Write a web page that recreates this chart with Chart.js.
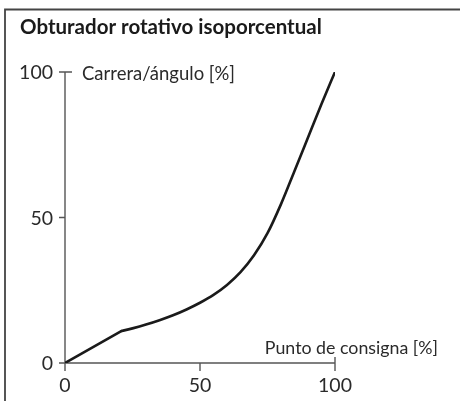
<!DOCTYPE html>
<html>
<head>
<meta charset="utf-8">
<script src="https://cdn.jsdelivr.net/npm/chart.js@4/dist/chart.umd.min.js"></script>
<style>
html,body{margin:0;padding:0;background:#fff;}
#wrap{position:relative;width:460px;height:401px;overflow:hidden;}
canvas{display:block;}
</style>
</head>
<body>
<div id="wrap"><canvas id="c" width="460" height="401"></canvas></div>
<script>
const chartTitle = "Obturador rotativo isoporcentual";
const xAxisTitle = "Punto de consigna [%]";
const yAxisTitle = "Carrera/ángulo [%]";
const xTicks = [0, 50, 100];
const yTicks = [0, 50, 100];
// linear opening segment
const setpointLinear = [0, 21];
const strokeLinear   = [0, 11];
// equal-percentage segment
const setpointCurve = [21, 25, 30, 35, 40, 45, 50, 55, 60, 65, 70, 75, 80, 85, 90, 95, 100];
const strokeCurve   = [11, 11.9, 13.2, 14.7, 16.4, 18.4, 20.7, 23.4, 26.8, 31.2, 37.0, 44.6, 54.6, 66.0, 77.5, 89, 100];

const toPts = (xs, ys) => xs.map((x, i) => ({x: x, y: ys[i]}));
const FONT = "Lato, 'Open Sans', sans-serif";
const TEXT = "#2a2a2a";
const AXIS = "#555";

const decor = {
  id: 'decor',
  beforeDatasetsDraw(chart) {
    const ctx = chart.ctx, xs = chart.scales.x, ys = chart.scales.y;
    ctx.save();
    ctx.strokeStyle = "#444";
    ctx.lineWidth = 1.8;
    ctx.beginPath();
    ctx.moveTo(5, 410);
    ctx.lineTo(5, 9.5);
    ctx.lineTo(470, 9.5);
    ctx.stroke();
    const x0 = xs.getPixelForValue(0), x1 = xs.getPixelForValue(100);
    const y0 = ys.getPixelForValue(0), y1 = ys.getPixelForValue(100);
    ctx.strokeStyle = AXIS;
    ctx.lineWidth = 1.4;
    ctx.beginPath();
    ctx.moveTo(x0, y1); ctx.lineTo(x0, y0); ctx.lineTo(x1, y0);
    yTicks.forEach(v => {
      const py = ys.getPixelForValue(v);
      ctx.moveTo(x0 - 6, py);
      ctx.lineTo(v === yTicks[yTicks.length-1] ? x0 + 7 : x0, py);
    });
    xTicks.forEach(v => {
      const px = xs.getPixelForValue(v);
      ctx.moveTo(px, v === xTicks[xTicks.length-1] ? y0 - 6 : y0);
      ctx.lineTo(px, y0 + 8);
    });
    ctx.stroke();
    ctx.restore();
  },
  afterDraw(chart) {
    const ctx = chart.ctx, xs = chart.scales.x, ys = chart.scales.y;
    ctx.save();
    ctx.fillStyle = "#1a1a1a";
    ctx.font = "bold 20.5px " + FONT;
    ctx.textAlign = "left"; ctx.textBaseline = "middle";
    ctx.fillText(chartTitle, 20, 27);
    ctx.fillStyle = TEXT;
    ctx.font = "19.5px " + FONT;
    ctx.textAlign = "right";
    yTicks.forEach(v => ctx.fillText(String(v), xs.getPixelForValue(0) - 12, ys.getPixelForValue(v) + 1));
    ctx.textAlign = "center";
    xTicks.forEach(v => ctx.fillText(String(v), xs.getPixelForValue(v), ys.getPixelForValue(0) + 23));
    ctx.font = "18.5px " + FONT;
    ctx.textAlign = "left";
    ctx.fillText(yAxisTitle, xs.getPixelForValue(0) + 17, ys.getPixelForValue(100) + 2);
    ctx.font = "17.8px " + FONT;
    ctx.textAlign = "right";
    ctx.fillText(xAxisTitle, 438, ys.getPixelForValue(0) - 15);
    ctx.restore();
  }
};

const lineStyle = {
  showLine: true,
  borderColor: "#1a1a1a",
  borderWidth: 2.6,
  pointRadius: 0,
  fill: false,
  borderCapStyle: 'round',
  borderJoinStyle: 'round'
};

new Chart(document.getElementById('c'), {
  type: 'scatter',
  data: {
    datasets: [
      Object.assign({ data: toPts(setpointLinear, strokeLinear) }, lineStyle),
      Object.assign({ data: toPts(setpointCurve, strokeCurve), cubicInterpolationMode: 'monotone' }, lineStyle)
    ]
  },
  options: {
    responsive: false,
    animation: false,
    events: [],
    layout: { padding: { left: 65, right: 125, top: 72, bottom: 38 } },
    plugins: { legend: { display: false }, tooltip: { enabled: false }, title: { display: false } },
    scales: {
      x: { type: 'linear', min: 0, max: 100, display: false },
      y: { type: 'linear', min: 0, max: 100, display: false }
    }
  },
  plugins: [decor]
});
</script>
</body>
</html>
